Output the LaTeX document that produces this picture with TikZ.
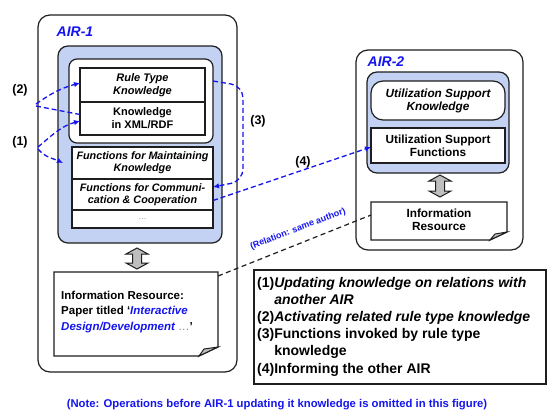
\documentclass[tikz,border=0pt]{standalone}
\usepackage{fontspec}
\setmainfont{Liberation Sans}
\usetikzlibrary{calc,arrows.meta}
\definecolor{bluefill}{RGB}{195,210,242}
\definecolor{txtblue}{RGB}{20,20,240}
\definecolor{arrgray}{RGB}{190,190,190}
\definecolor{edge}{RGB}{30,30,30}
\begin{document}
\begin{tikzpicture}[x=1pt,y=-1pt,
  air/.style={draw=edge, line width=1.2pt, rounded corners=12pt, fill=white, inner sep=0pt, outer sep=0pt},
  bluebox/.style={draw=edge, line width=1.2pt, rounded corners=10pt, fill=bluefill, inner sep=0pt, outer sep=0pt},
  wbox/.style={draw=edge, line width=1.2pt, fill=white, inner sep=0pt, outer sep=0pt, align=center, text=black},
  f1/.style={font=\fontsize{11}{13}\selectfont\bfseries},
  f2/.style={font=\fontsize{10.8}{12.3}\selectfont\bfseries},
  f3/.style={font=\fontsize{11.8}{13}\selectfont\bfseries},
  airlbl/.style={text=txtblue, font=\fontsize{14}{16}\selectfont\bfseries\itshape},
  numlbl/.style={font=\fontsize{12.5}{14}\selectfont\bfseries},
  bdash/.style={draw=txtblue, line width=1.3pt, dash pattern=on 5pt off 3pt},
  kdash/.style={draw=edge, line width=1.2pt, dash pattern=on 5pt off 3.5pt},
  tip/.style={-{Latex[length=6pt,width=5.5pt]}},
  dbl/.style={draw=edge, line width=1pt, fill=arrgray, line join=miter},
  paper/.style={draw=edge, line width=1.2pt, fill=white},
]
\useasboundingbox (0,0) rectangle (551,413);

% ---------------- AIR-1 ----------------
\node[air, minimum width=199pt, minimum height=357pt] (air1) at (137.5,193.5) {};
\node[airlbl] (air1lbl) at (75,32) {AIR-1};
\node[bluebox, minimum width=164pt, minimum height=197pt] (blue1) at (140,144.5) {};
\node[air, rounded corners=8pt, minimum width=144pt, minimum height=84pt] (know1) at (141,101) {};
\node[wbox, f1, minimum width=125pt, minimum height=34pt] (rtk) at (142.5,85) {\itshape Rule Type\\\itshape Knowledge};
\node[wbox, f1, minimum width=125pt, minimum height=33pt] (xml) at (142.5,118.5) {Knowledge\\in XML/RDF};
\node[wbox, f2, minimum width=141pt, minimum height=32pt] (fmk) at (142.5,163) {\itshape Functions for Maintaining\\\itshape Knowledge};
\node[wbox, f2, minimum width=141pt, minimum height=31pt] (fcc) at (142.5,194.5) {\itshape Functions for Communi-\\\itshape cation \& Cooperation};
\node[wbox, minimum width=141pt, minimum height=18pt, font=\fontsize{8}{9}\selectfont, text=gray] (fdots) at (142.5,219) {\dots};

% double arrow AIR-1
\draw[dbl] (137,248) -- ++(11,6) -- ++(-6.5,0) -- ++(0,9) -- ++(6.5,0) -- ++(-11,6) -- ++(-11,-6) -- ++(6.5,0) -- ++(0,-9) -- ++(-6.5,0) -- cycle;

% paper AIR-1
\node[minimum width=164pt, minimum height=84pt, inner sep=0pt, outer sep=0pt] (paper1) at (136,314) {};
\draw[paper] (paper1.north west) -- (paper1.north east) -- ($(paper1.south east)+(0,-9)$) -- ($(paper1.south east)+(-19,0)$) -- (paper1.south west) -- cycle;
\draw[dbl, line width=1pt] ($(paper1.south east)+(-19,0)$) -- ($(paper1.south east)+(-14,-7)$) -- ($(paper1.south east)+(0,-9)$) -- cycle;
\node[anchor=west, align=left, inner sep=0pt, font=\fontsize{11.5}{15.5}\selectfont\bfseries] (paper1txt) at (61,312)
  {Information Resource:\\Paper titled `\textcolor{txtblue}{\itshape Interactive}\\\textcolor{txtblue}{\itshape Design/Development} {\mdseries\color{gray}\dots}'};

% ---------------- AIR-2 ----------------
\node[air, minimum width=167pt, minimum height=200pt] (air2) at (439.5,150) {};
\node[airlbl] (air2lbl) at (386,62) {AIR-2};
\node[bluebox, minimum width=142pt, minimum height=101pt] (blue2) at (438,122.5) {};
\node[wbox, f3, rounded corners=12pt, minimum width=134pt, minimum height=39pt] (usk) at (438,100.5) {\itshape Utilization Support\\\itshape Knowledge};
\node[wbox, f3, minimum width=134pt, minimum height=35pt] (usf) at (438,145.5) {Utilization Support\\Functions};
\draw[dbl] (440,175) -- ++(11,6) -- ++(-6.5,0) -- ++(0,10) -- ++(6.5,0) -- ++(-11,6) -- ++(-11,-6) -- ++(6.5,0) -- ++(0,-10) -- ++(-6.5,0) -- cycle;
\node[minimum width=136pt, minimum height=38pt, inner sep=0pt, outer sep=0pt] (info2) at (439,221) {};
\draw[paper] (info2.north west) -- (info2.north east) -- ($(info2.south east)+(0,-8)$) -- ($(info2.south east)+(-17,0)$) -- (info2.south west) -- cycle;
\draw[dbl] ($(info2.south east)+(-17,0)$) -- ($(info2.south east)+(-12,-6)$) -- ($(info2.south east)+(0,-8)$) -- cycle;
\node[f3, align=center] (info2txt) at (439,220) {Information\\Resource};

% ---------------- labels and connectors ----------------
\node[numlbl] (l2) at (20,90) {(2)};
\node[numlbl] (l1) at (20,142) {(1)};
\node[numlbl] (l3) at (258,121) {(3)};
\node[numlbl] (l4) at (303,162) {(4)};
\coordinate (c2) at (36,104);
\coordinate (c1) at (38,147);

\draw[bdash, tip] (c2) to[out=35,in=195] ([yshift=2pt]rtk.west);
\draw[bdash] ([yshift=-2pt]c2) -- ([yshift=4pt]xml.west);
\draw[bdash, tip] (c1) to[out=40,in=195] ([yshift=-2.5pt]xml.west);
\draw[bdash, tip] ([yshift=-2pt]c1) to[out=-50,in=155] ($(fmk.west)+(-9,0)$);

\coordinate (s3) at ($(know1.north east)+(0,22)$);
\draw[bdash, tip, rounded corners=12pt] (s3) -- (243,86) -- (243,181) -- ([yshift=7.5pt]fcc.east);
\draw[bdash, tip] ([yshift=-6pt]fcc.east) -- ([yshift=-1.5pt]usf.west);

\draw[kdash] ($(paper1.north east)+(0,4)$) -- ([yshift=6pt]info2.west);
\node[rotate=21, text=txtblue, font=\fontsize{9}{10}\selectfont\bfseries] (rel) at (298,229) {(Relation: same author)};

% ---------------- legend ----------------
\node[draw=edge, line width=1.2pt, minimum width=292pt, minimum height=114pt, inner sep=0pt] (legend) at (400,327) {};
\node[anchor=west, align=left, inner sep=0pt, font=\fontsize{14}{17.2}\selectfont\bfseries] (legtxt) at (257,326.5)
  {(1)\textit{Updating knowledge on relations with}\\
   \phantom{(1)}\textit{another AIR}\\
   (2)\textit{Activating related rule type knowledge}\\
   (3)Functions invoked by rule type\\
   \phantom{(3)}knowledge\\
   (4)Informing the other AIR};

\node[text=txtblue, font=\fontsize{11.3}{13}\selectfont\bfseries] (note) at (277,405)
  {(Note: Operations before AIR-1 updating it knowledge is omitted in this figure)};
\end{tikzpicture}
\end{document}
